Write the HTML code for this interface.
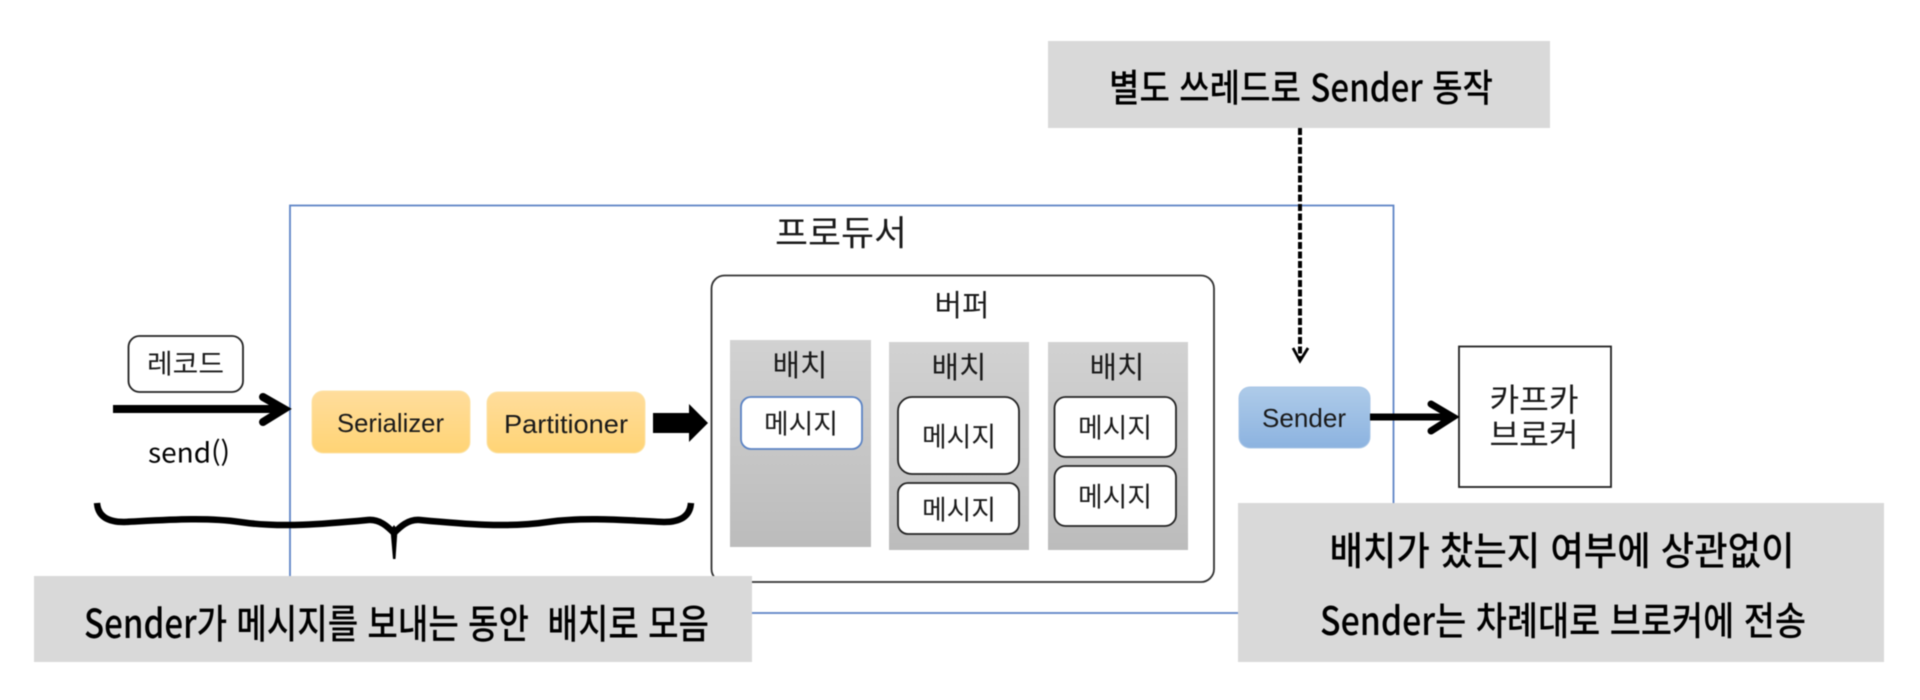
<!DOCTYPE html>
<html lang="ko">
<head>
<meta charset="utf-8">
<title>프로듀서 Sender 다이어그램</title>
<style>
html,body{margin:0;padding:0;background:#fff;width:1920px;height:700px;overflow:hidden}
svg{display:block;filter:blur(0.6px)}
text{font-family:"Liberation Sans","Noto Sans CJK KR",sans-serif;fill:#1a1a1a;text-anchor:middle;dominant-baseline:central}
.k{font-family:"Noto Sans CJK KR","NanumGothic",sans-serif;font-weight:400}
.h{font-family:"Noto Sans CJK KR","NanumGothic",sans-serif;font-weight:500;fill:#000}
</style>
</head>
<body>
<svg width="1920" height="700" viewBox="0 0 1920 700" xmlns="http://www.w3.org/2000/svg">
<defs>
<linearGradient id="o" x1="0" y1="0" x2="0" y2="1"><stop offset="0" stop-color="#ffdd9c"/><stop offset="1" stop-color="#ffd475"/></linearGradient>
<linearGradient id="b" x1="0" y1="0" x2="0" y2="1"><stop offset="0" stop-color="#aecbe9"/><stop offset="1" stop-color="#8cb3e0"/></linearGradient>
<linearGradient id="g" x1="0" y1="0" x2="0" y2="1"><stop offset="0" stop-color="#d2d2d2"/><stop offset="1" stop-color="#bcbcbc"/></linearGradient>
</defs>
<rect width="1920" height="700" fill="#fff"/>

<!-- producer -->
<rect x="290" y="205.500" width="1103.500" height="407.500" fill="#fff" stroke="#5f85c6" stroke-width="1.800"/>
<text class="k" x="841" y="231" font-size="35" textLength="132" lengthAdjust="spacingAndGlyphs">프로듀서</text>

<!-- buffer -->
<rect x="711.500" y="275.500" width="502.500" height="306.500" rx="13" fill="#fff" stroke="#333" stroke-width="1.800"/>
<text class="k" x="962" y="303" font-size="30" textLength="55" lengthAdjust="spacingAndGlyphs">버퍼</text>

<!-- batches -->
<rect x="730" y="340" width="141" height="207" fill="url(#g)"/>
<rect x="889" y="342" width="140" height="208" fill="url(#g)"/>
<rect x="1048" y="342" width="140" height="208" fill="url(#g)"/>
<text class="k" x="800" y="363" font-size="30" textLength="55" lengthAdjust="spacingAndGlyphs">배치</text>
<text class="k" x="959" y="365" font-size="30" textLength="55" lengthAdjust="spacingAndGlyphs">배치</text>
<text class="k" x="1117" y="365" font-size="30" textLength="55" lengthAdjust="spacingAndGlyphs">배치</text>

<!-- messages -->
<rect x="741" y="397" width="121" height="52" rx="10" fill="#fff" stroke="#5b83c4" stroke-width="1.800"/>
<rect x="898" y="397" width="121" height="77" rx="14" fill="#fff" stroke="#222" stroke-width="1.800"/>
<rect x="898" y="483" width="121" height="51" rx="10" fill="#fff" stroke="#222" stroke-width="1.800"/>
<rect x="1054.500" y="397" width="121.500" height="60" rx="11" fill="#fff" stroke="#222" stroke-width="1.800"/>
<rect x="1054.500" y="466" width="121.500" height="60" rx="11" fill="#fff" stroke="#222" stroke-width="1.800"/>
<text class="k" x="801" y="422" font-size="27" textLength="74" lengthAdjust="spacingAndGlyphs">메시지</text>
<text class="k" x="959" y="435" font-size="27" textLength="74" lengthAdjust="spacingAndGlyphs">메시지</text>
<text class="k" x="959" y="508" font-size="27" textLength="74" lengthAdjust="spacingAndGlyphs">메시지</text>
<text class="k" x="1115" y="426" font-size="27" textLength="74" lengthAdjust="spacingAndGlyphs">메시지</text>
<text class="k" x="1115" y="495" font-size="27" textLength="74" lengthAdjust="spacingAndGlyphs">메시지</text>

<!-- serializer / partitioner -->
<rect x="312" y="391" width="158" height="62" rx="11" fill="url(#o)" stroke="#fbe3a8" stroke-width="1"/>
<rect x="487" y="392" width="158" height="61" rx="11" fill="url(#o)" stroke="#fbe3a8" stroke-width="1"/>
<text x="390.500" y="423" font-size="26" textLength="107" lengthAdjust="spacingAndGlyphs">Serializer</text>
<text x="566" y="424" font-size="26" textLength="124" lengthAdjust="spacingAndGlyphs">Partitioner</text>

<!-- sender -->
<rect x="1239" y="387" width="131" height="61" rx="11" fill="url(#b)" stroke="#a9c6e6" stroke-width="1"/>
<text x="1304" y="418" font-size="26" textLength="84" lengthAdjust="spacingAndGlyphs">Sender</text>

<!-- broker -->
<rect x="1459" y="346.500" width="152" height="140.500" fill="#fff" stroke="#222" stroke-width="1.800"/>
<text class="k" x="1534" y="398" font-size="32" textLength="89" lengthAdjust="spacingAndGlyphs">카프카</text>
<text class="k" x="1534" y="433" font-size="32" textLength="89" lengthAdjust="spacingAndGlyphs">브로커</text>

<!-- record -->
<rect x="128.500" y="336" width="114.500" height="56" rx="11" fill="#fff" stroke="#222" stroke-width="1.800"/>
<text class="k" x="185.500" y="362" font-size="27" textLength="77" lengthAdjust="spacingAndGlyphs">레코드</text>

<!-- send arrow -->
<path d="M113 409H282" stroke="#000" stroke-width="8" fill="none"/>
<path d="M263 397L284 409L263 422" stroke="#000" stroke-width="8" fill="none" stroke-linecap="round" stroke-linejoin="miter"/>
<text class="k" x="189" y="451" font-size="27" textLength="82" lengthAdjust="spacingAndGlyphs" style="fill:#000">send()</text>

<!-- block arrow -->
<path d="M653 413H689V404L708 423L689 442V433H653Z" fill="#000"/>

<!-- sender arrow -->
<path d="M1370 417H1452" stroke="#000" stroke-width="7" fill="none"/>
<path d="M1431 404L1453 417L1431 431" stroke="#000" stroke-width="7" fill="none" stroke-linecap="round"/>

<!-- dashed arrow -->
<path d="M1300 128V358" stroke="#000" stroke-width="4" stroke-dasharray="7 2.500" fill="none"/>
<path d="M1293 348L1300 361L1308 348" stroke="#000" stroke-width="2.800" fill="none"/>

<!-- brace -->
<path d="M97 503C98 515 106 522 124 522C165 520 205 517 240 522C280 528 325 524 368 520C380 519 388 527 394 533C400 527 408 519 420 520C463 524 508 528 548 522C583 517 623 520 664 522C682 522 690 515 691 503" stroke="#000" stroke-width="6.500" fill="none"/>
<path d="M390.500 530L394 525L397.500 530L395.500 559H393Z" fill="#000"/>

<!-- grey callouts -->
<rect x="34" y="576" width="718" height="86" fill="#d9d9d9"/>
<text class="h" x="396.500" y="621" font-size="40" textLength="625" lengthAdjust="spacingAndGlyphs">Sender가 메시지를 보내는 동안 &#160;배치로 모음</text>

<rect x="1048" y="41" width="502" height="87" fill="#d9d9d9"/>
<text class="h" x="1301" y="85" font-size="38" textLength="384" lengthAdjust="spacingAndGlyphs">별도 쓰레드로 Sender 동작</text>

<rect x="1238" y="503" width="646" height="159" fill="#d9d9d9"/>
<text class="h" x="1562" y="549" font-size="39" textLength="465" lengthAdjust="spacingAndGlyphs">배치가 찼는지 여부에 상관없이</text>
<text class="h" x="1563" y="619" font-size="39" textLength="486" lengthAdjust="spacingAndGlyphs">Sender는 차례대로 브로커에 전송</text>
</svg>
</body>
</html>
